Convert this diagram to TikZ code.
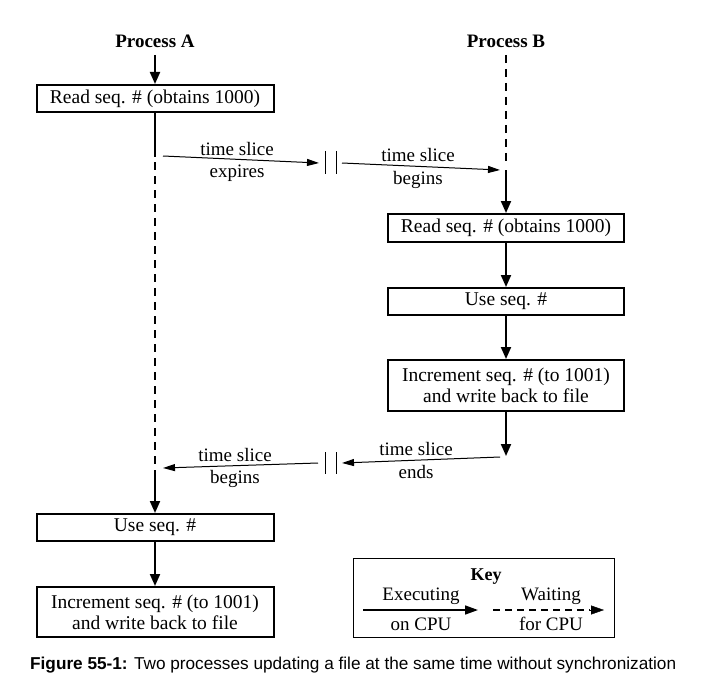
\documentclass[tikz,border=0pt]{standalone}
\usepackage{fontspec}
\setmainfont{Liberation Serif}
\newfontfamily\capfont{Liberation Sans}
\usetikzlibrary{arrows.meta}
\begin{document}
\begin{tikzpicture}[x=1pt,y=-1pt,
  box/.style={draw,line width=2pt,inner sep=0pt,align=center,font=\fontsize{19.5}{21}\selectfont},
  lbl/.style={font=\fontsize{19}{21}\selectfont,inner sep=0pt},
  hd/.style={font=\fontsize{19}{21}\selectfont\bfseries,inner sep=0pt},
  flow/.style={line width=2pt,-{Triangle[length=12pt,width=10pt]}},
  wait/.style={line width=2pt,dash pattern=on 8pt off 6pt},
  slice/.style={line width=1pt,-{Triangle[length=12pt,width=7pt]}},
  brk/.style={line width=1pt}]
\useasboundingbox (0,0) rectangle (708,687);
% headings
\node[hd] (pa) at (155,41) {Process A};
\node[hd] (pb) at (506,41) {Process B};
% Process A boxes
\node[box,minimum width=237pt,minimum height=27pt] (a1) at (155,98.5) {Read seq. \# (obtains 1000)};
\node[box,minimum width=237pt,minimum height=27pt] (a2) at (155,527.5) {Use seq. \#};
\node[box,minimum width=237pt,minimum height=50pt] (a3) at (155,612) {Increment seq. \# (to 1001)\\and write back to file};
% Process B boxes
\node[box,minimum width=236pt,minimum height=28pt] (b1) at (506,228) {Read seq. \# (obtains 1000)};
\node[box,minimum width=236pt,minimum height=27pt] (b2) at (506,301.5) {Use seq. \#};
\node[box,minimum width=236pt,minimum height=51pt] (b3) at (506,385.5) {Increment seq. \# (to 1001)\\and write back to file};
% coordinates
\coordinate (pat) at (155,55);
\coordinate (pbt) at (506,55);
\coordinate (as1) at (155,157);
\coordinate (ad1) at (155,162);
\coordinate (ad2) at (155,466);
\coordinate (as2) at (155,470);
\coordinate (bd2) at (506,166);
\coordinate (bs1) at (506,170);
\coordinate (bend) at (506,456);
% Process A line
\draw[flow] (pat) -- (a1.north);
\draw[line width=2pt] (a1.south) -- (as1);
\draw[wait] (ad1) -- (ad2);
\draw[flow] (as2) -- (a2.north);
\draw[flow] (a2.south) -- (a3.north);
% Process B line
\draw[wait] (pbt) -- (bd2);
\draw[flow] (bs1) -- (b1.north);
\draw[flow] (b1.south) -- (b2.north);
\draw[flow] (b2.south) -- (b3.north);
\draw[flow] (b3.south) -- (bend);
% time slice arrows top
\coordinate (t1s) at (163,156);
\coordinate (t1e) at (319,163);
\coordinate (t2s) at (342,163);
\coordinate (t2e) at (500,170);
\coordinate (k1t) at (325,151);
\coordinate (k1b) at (325,174);
\coordinate (k2t) at (336,151);
\coordinate (k2b) at (336,174);
\draw[slice] (t1s) -- (t1e);
\draw[slice] (t2s) -- (t2e);
\draw[brk] (k1t) -- (k1b);
\draw[brk] (k2t) -- (k2b);
\node[lbl] (l1) at (237,149) {time slice};
\node[lbl] (l2) at (237,173) {expires};
\node[lbl] (l3) at (418,155) {time slice};
\node[lbl] (l4) at (418,180) {begins};
% time slice arrows bottom
\coordinate (u1s) at (500,457);
\coordinate (u1e) at (342,463);
\coordinate (u2s) at (318,463);
\coordinate (u2e) at (163,468);
\coordinate (m1t) at (325,452);
\coordinate (m1b) at (325,474);
\coordinate (m2t) at (336,452);
\coordinate (m2b) at (336,474);
\draw[slice] (u1s) -- (u1e);
\draw[slice] (u2s) -- (u2e);
\draw[brk] (m1t) -- (m1b);
\draw[brk] (m2t) -- (m2b);
\node[lbl] (l5) at (416,449) {time slice};
\node[lbl] (l6) at (416,472) {ends};
\node[lbl] (l7) at (235,455) {time slice};
\node[lbl] (l8) at (235,479) {begins};
% key
\node[draw,line width=1pt,minimum width=261pt,minimum height=79pt,inner sep=0pt] (key) at (483.5,597.5) {};
\node[hd,font=\fontsize{18}{21}\selectfont\bfseries] (kt) at (486,577) {Key};
\coordinate (ke1) at (363,610);
\coordinate (ke2) at (478,610);
\coordinate (kw1) at (493,610);
\coordinate (kwm) at (590,610);
\coordinate (kw2) at (604,610);
\draw[line width=1.6pt,-{Triangle[length=13pt,width=9pt]}] (ke1) -- (ke2);
\draw[line width=1.6pt,dash pattern=on 7pt off 5pt] (kw1) -- (kwm);
\draw[-{Triangle[length=13pt,width=9pt]}] (kwm) -- (kw2);
\node[lbl] (k1) at (421,596) {Executing};
\node[lbl] (k2) at (421,624) {on CPU};
\node[lbl] (k3) at (551,596) {Waiting};
\node[lbl] (k4) at (551,624) {for CPU};
% caption
\node[inner sep=0pt,anchor=west,font=\capfont\fontsize{17.2}{20}\selectfont] (cap) at (30,665) {\textbf{Figure 55-1:} Two processes updating a file at the same time without synchronization};
\end{tikzpicture}
\end{document}
